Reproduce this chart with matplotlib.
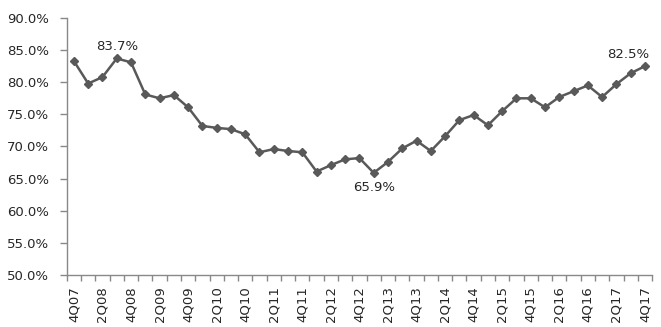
import matplotlib
matplotlib.use("Agg")
import matplotlib.pyplot as plt
from matplotlib.ticker import FuncFormatter

quarters = []
for y in range(7, 18):
    for q in range(1, 5):
        if y == 7 and q < 4:
            continue
        quarters.append(f"{q}Q{y:02d}")

values = [83.3, 79.8, 80.8, 83.7, 83.1, 78.1, 77.5, 78.0, 76.1, 73.2,
          72.9, 72.7, 71.9, 69.1, 69.6, 69.3, 69.1, 66.1, 67.1, 68.0,
          68.2, 65.9, 67.6, 69.7, 70.9, 69.3, 71.6, 74.1, 74.9, 73.3,
          75.5, 77.5, 77.5, 76.1, 77.7, 78.6, 79.5, 77.7, 79.7, 81.4,
          82.5]
label_idx = [3, 21, 40]
label_pos = ['above', 'below', 'above']

line_color = '#595959'
axis_color = '#898989'
text_color = '#262626'

fig = plt.figure(figsize=(6.61, 3.27), dpi=100)
ax = fig.add_axes([0.101, 0.159, 0.8855, 0.786])

x = list(range(len(values)))
ax.plot(x, values, color=line_color, lw=1.8, marker='D', markersize=4.4,
        markerfacecolor=line_color, markeredgecolor=line_color, zorder=3)

ax.set_xlim(-0.5, len(values) - 0.5)
ax.set_ylim(50, 90)
ax.set_yticks(range(50, 91, 5))
ax.yaxis.set_major_formatter(FuncFormatter(lambda v, p: f"{v:.1f}%"))

ax.set_xticks([i - 0.5 for i in range(len(values) + 1)], minor=True)
ax.set_xticks(x[::2])
ax.set_xticklabels(quarters[::2], rotation=90)

for s in ['top', 'right']:
    ax.spines[s].set_visible(False)
for s in ['left', 'bottom']:
    ax.spines[s].set_color(axis_color)
    ax.spines[s].set_linewidth(1.0)

ax.tick_params(axis='y', which='major', length=5, color=axis_color, width=1.0,
               pad=8, labelsize=9.5, labelcolor=text_color)
ax.tick_params(axis='x', which='major', length=0, pad=8, labelsize=9.5,
               labelcolor=text_color)
ax.tick_params(axis='x', which='minor', length=4, color=axis_color, width=1.0)

for i, pos in zip(label_idx, label_pos):
    if pos == 'above':
        ax.annotate(f"{values[i]:.1f}%", (i, values[i]), xytext=(0 if i < 40 else -12, 4),
                    textcoords='offset points', ha='center', va='bottom',
                    fontsize=9.5, color=text_color)
    else:
        ax.annotate(f"{values[i]:.1f}%", (i, values[i]), xytext=(0, -6),
                    textcoords='offset points', ha='center', va='top',
                    fontsize=9.5, color=text_color)

fig.savefig("out.png", dpi=100)
